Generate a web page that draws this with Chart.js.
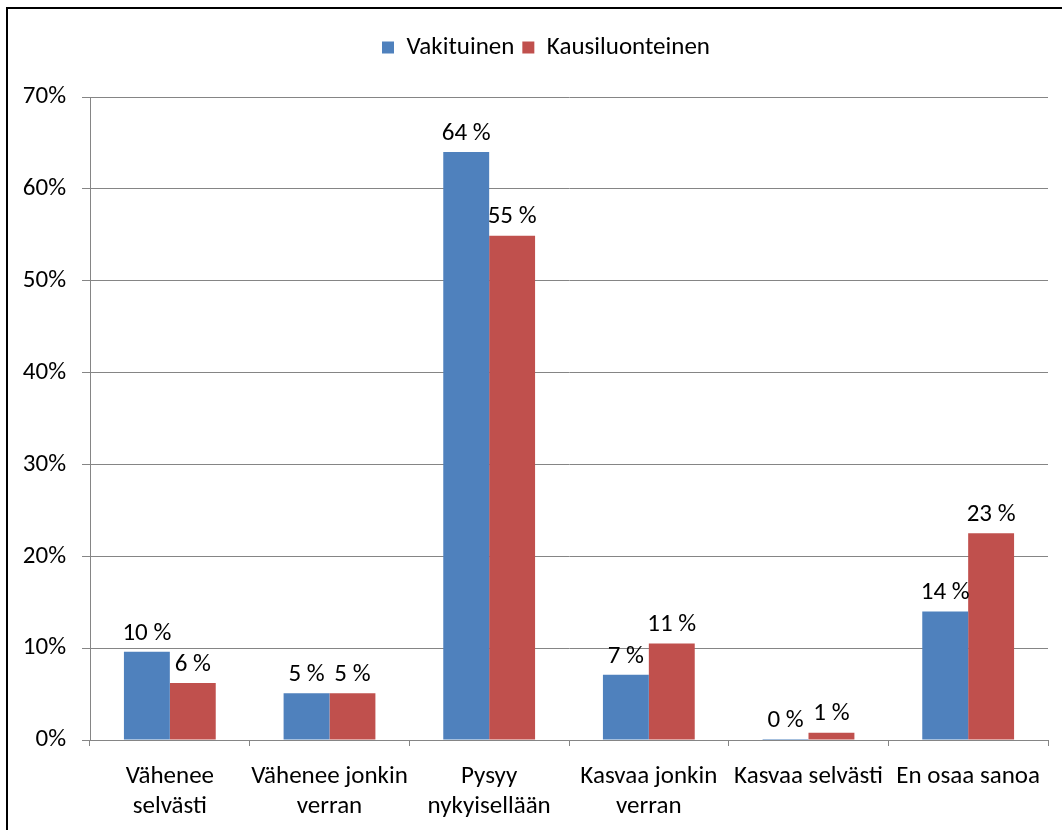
<!DOCTYPE html>
<html>
<head>
<meta charset="utf-8">
<script src="https://cdn.jsdelivr.net/npm/chart.js@4"></script>
<style>
  html, body { margin: 0; padding: 0; background: #fff; overflow: hidden; }
  #wrap { position: relative; width: 1062px; height: 830px; overflow: hidden; }
  #frame { position: absolute; left: 6px; top: 7px; width: 1100px; height: 900px;
           border-top: 2px solid #000; border-left: 2px solid #000; pointer-events: none; }
</style>
</head>
<body>
<div id="wrap">
  <canvas id="kaavio" width="1062" height="830"></canvas>
  <div id="frame"></div>
</div>
<script>
// --- DATA ---
const kategoriat = [
  ["Vähenee", "selvästi"],
  ["Vähenee jonkin", "verran"],
  ["Pysyy", "nykyisellään"],
  ["Kasvaa jonkin", "verran"],
  ["Kasvaa selvästi"],
  ["En osaa sanoa"]
];
const vakituinen = [9.6, 5.1, 64.0, 7.1, 0.1, 14.0];
const kausiluonteinen = [6.2, 5.1, 54.9, 10.5, 0.8, 22.5];
const sarjat = ["Vakituinen", "Kausiluonteinen"];
const yTikit = [0, 10, 20, 30, 40, 50, 60, 70];

const FONTTI = "Carlito, Lato, 'Open Sans', sans-serif";
const KOKO = 25;
const harmaa = "#858585";

// --- PLUGINIT ---
// legendin korkeus kiinteäksi ja keskitys hieman oikealle kuten alkuperäisessä
const legendSijainti = {
  id: "legendSijainti",
  beforeLayout(chart) {
    const lg = chart.legend;
    if (!lg || lg._korjattu) return;
    const orig = lg.fit.bind(lg);
    lg.fit = function () {
      orig();
      this.height = 70;
    };
    lg._korjattu = true;
  },
  afterLayout(chart) {
    const lg = chart.legend;
    if (!lg) return;
    lg.left += 22;
    lg.right += 22;
  }
};

// prosenttiluvut pylväiden päälle
const arvoTekstit = {
  id: "arvoTekstit",
  afterDatasetsDraw(chart) {
    const ctx = chart.ctx;
    ctx.save();
    ctx.font = KOKO + "px " + FONTTI;
    ctx.fillStyle = "#000";
    ctx.textAlign = "center";
    ctx.textBaseline = "bottom";
    chart.data.datasets.forEach((ds, i) => {
      chart.getDatasetMeta(i).data.forEach((bar, j) => {
        ctx.fillText(Math.round(ds.data[j]) + " %", bar.x, bar.y - 6);
      });
    });
    ctx.restore();
  }
};

// --- KAAVIO ---
new Chart(document.getElementById("kaavio").getContext("2d"), {
  type: "bar",
  data: {
    labels: kategoriat,
    datasets: [
      { label: sarjat[0], data: vakituinen, backgroundColor: "#4f81bd" },
      { label: sarjat[1], data: kausiluonteinen, backgroundColor: "#c0504d" }
    ]
  },
  options: {
    responsive: false,
    animation: false,
    devicePixelRatio: 1,
    layout: { padding: { top: 27, left: 0, right: 14, bottom: 0 } },
    datasets: { bar: { barPercentage: 1, categoryPercentage: 0.575 } },
    plugins: {
      legend: {
        display: true,
        position: "top",
        labels: {
          color: "#000",
          font: { family: FONTTI, size: KOKO },
          boxWidth: 12,
          boxHeight: 12,
          padding: 8
        }
      },
      tooltip: { enabled: false }
    },
    scales: {
      x: {
        offset: true,
        grid: { display: true, drawOnChartArea: false, offset: true, tickLength: 6, color: harmaa, lineWidth: 1 },
        border: { display: true, color: harmaa, width: 1 },
        ticks: {
          color: "#000",
          font: { family: FONTTI, size: KOKO, lineHeight: 1.2 },
          maxRotation: 0,
          minRotation: 0,
          autoSkip: false,
          padding: 16
        },
        afterFit(scale) { scale.height = 90; }
      },
      y: {
        min: 0,
        max: 70,
        afterBuildTicks(scale) { scale.ticks = yTikit.map(v => ({ value: v })); },
        grid: { color: harmaa, lineWidth: 1, tickLength: 8 },
        border: { display: true, color: harmaa, width: 1 },
        ticks: {
          color: "#000",
          font: { family: FONTTI, size: KOKO },
          padding: 16,
          callback: v => v + "%"
        },
        afterFit(scale) { scale.width = 90; }
      }
    }
  },
  plugins: [legendSijainti, arvoTekstit]
});
</script>
</body>
</html>
